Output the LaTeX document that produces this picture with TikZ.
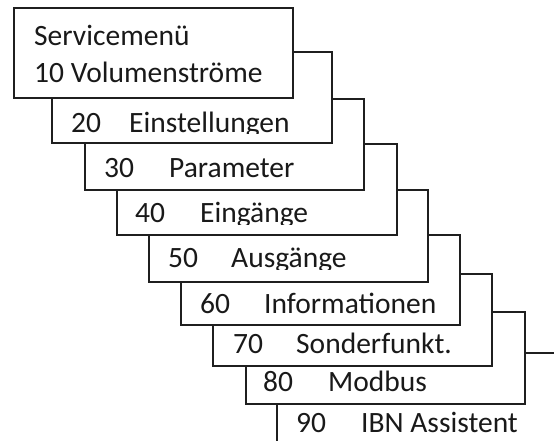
\documentclass[tikz,border=0pt]{standalone}
\usepackage{fontspec}
\setmainfont{Carlito}
\tikzset{
  menubox/.style={draw=black!88, line width=2pt, fill=white},
  menutext/.style={anchor=base west, inner sep=0pt, text=black!90, font=\fontsize{29.5}{35}\selectfont}
}
% \menurow{left}{right}{top}{bottom}{baseline}{numx}{wordx}{num}{word}
\newcommand{\menurow}[9]{%
  \path[menubox] (#1,#3) rectangle (#2,#4);
  \begin{scope}
    \clip (#1+2,#3+2) rectangle (#2-2,#5+2);
    \node[menutext] (n#8) at (#6,#5) {#8};
    \node[menutext] (w#8) at (#7,#5) {#9};
  \end{scope}}
\begin{document}
\begin{tikzpicture}[x=1pt,y=-1pt]
\useasboundingbox[fill=white] (0,0) rectangle (554,441);
\begin{scope}
\clip (0,0) rectangle (554,441);
\menurow{277}{600}{353}{480}{432}{296}{361}{90}{IBN Assistent}
\menurow{246}{525}{312}{404}{391}{263}{328}{80}{Modbus}
\menurow{213}{492}{274}{366}{353}{233}{296}{70}{Sonderfunkt.}
\menurow{181}{460}{235}{325}{313}{200}{264}{60}{Informationen}
\menurow{149}{428}{190}{282}{267}{168}{231}{50}{Ausgänge}
\menurow{117}{397}{144}{235}{222}{135}{200}{40}{Eingänge}
\menurow{85}{364}{99}{190}{177}{104}{169}{30}{Parameter}
\menurow{52}{332}{52}{143}{132}{71}{129}{20}{Einstellungen}
\path[menubox] (14,8) rectangle (293,98);
\node[menutext] (title) at (34,46) {Servicemenü};
\node[menutext] (n10) at (34,83) {10 Volumenströme};
\end{scope}
\end{tikzpicture}
\end{document}
